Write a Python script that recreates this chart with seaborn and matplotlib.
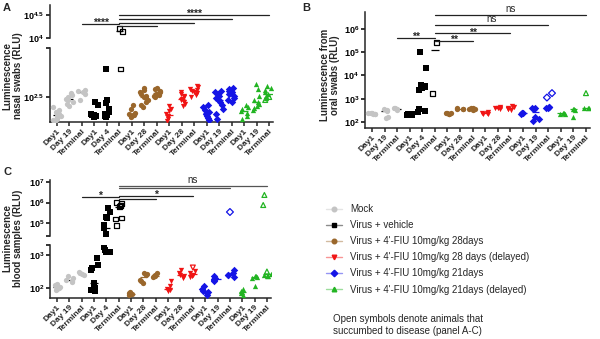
import numpy as np
import pandas as pd
import matplotlib
matplotlib.use("Agg")
import matplotlib.pyplot as plt
import seaborn as sns
from matplotlib.lines import Line2D
from matplotlib.ticker import NullLocator

sns.set_theme(style="ticks")
plt.rcParams["font.family"] = ["Liberation Sans", "DejaVu Sans"]
plt.rcParams["mathtext.fontset"] = "custom"
plt.rcParams["mathtext.rm"] = "Liberation Sans"
plt.rcParams["mathtext.bf"] = "Liberation Sans:bold"
plt.rcParams["mathtext.it"] = "Liberation Sans:italic"
np.random.seed(7)  # reproducible horizontal jitter of the dots

# ---- groups -------------------------------------------------------------
treatments = [
    "Mock",
    "Virus + vehicle",
    "Virus + 4'-FIU 10mg/kg 28days",
    "Virus + 4'-FIU 10mg/kg 28 days (delayed)",
    "Virus + 4'-FIU 10mg/kg 21days",
    "Virus + 4'-FIU 10mg/kg 21days (delayed)",
]
colors = ["#c4c4c4", "#000000", "#9a672c", "#f01414", "#1414e6", "#22b422"]
markers = ["o", "s", "o", "v", "D", "^"]
timepoints = [
    ["Day1", "Day 19", "Terminal"],
    ["Day1", "Day 4", "Terminal"],
    ["Day1", "Day 28", "Terminal"],
    ["Day1", "Day 28", "Terminal"],
    ["Day1", "Day 19", "Terminal"],
    ["Day1", "Day 19", "Terminal"],
]

# ---- nasal swabs, log10 RLU (filled = survivors, *_open = succumbed) ----
nasal_mock = [[2.40, 2.37, 2.35, 2.33, 2.31, 2.30, 2.28, 2.27, 2.26, 2.33],
              [2.54, 2.52, 2.50, 2.48, 2.47, 2.45, 2.43, 2.41],
              [2.57, 2.56, 2.55, 2.53, 2.47]]
nasal_vehicle = [[2.45, 2.42, 2.33, 2.32, 2.31, 2.31, 2.30, 2.32, 2.30],
                 [2.78, 2.47, 2.44, 2.38, 2.35, 2.33, 2.32, 2.31, 2.30, 2.31],
                 []]
nasal_vehicle_open = [[], [], [2.78, 4.20, 4.15]]
nasal_fiu28 = [[2.42, 2.38, 2.34, 2.33, 2.32, 2.31, 2.30, 2.32],
               [2.59, 2.57, 2.55, 2.53, 2.51, 2.50, 2.49, 2.47, 2.45, 2.42, 2.40],
               [2.59, 2.58, 2.56, 2.55, 2.54, 2.53, 2.52, 2.51, 2.50]]
nasal_fiu28d = [[2.41, 2.38, 2.36, 2.33, 2.31, 2.30, 2.28, 2.26],
                [2.55, 2.53, 2.51, 2.50, 2.48, 2.47, 2.45, 2.43, 2.41],
                [2.61, 2.60, 2.58, 2.57, 2.56, 2.55, 2.54, 2.52, 2.50]]
nasal_fiu21 = [[2.42, 2.40, 2.37, 2.35, 2.33, 2.31, 2.29, 2.27],
               [2.56, 2.55, 2.53, 2.51, 2.49, 2.47, 2.45, 2.42, 2.38, 2.33, 2.28],
               [2.59, 2.58, 2.56, 2.55, 2.53, 2.51, 2.49, 2.47, 2.45]]
nasal_fiu21d = [[2.42, 2.40, 2.38, 2.36, 2.34, 2.31, 2.28],
                [2.63, 2.58, 2.51, 2.47, 2.45, 2.43, 2.41, 2.39, 2.37],
                [2.61, 2.59, 2.57, 2.55, 2.53, 2.51, 2.49]]
nasal_fiu21d_open = [[], [], [2.47, 2.50]]

# ---- oral swabs, log10 RLU ----------------------------------------------
oral_mock = [[2.40, 2.38, 2.37, 2.36, 2.35, 2.34],
             [2.55, 2.50, 2.48, 2.20, 2.17],
             [2.62, 2.58, 2.55, 2.53]]
oral_vehicle = [[2.35, 2.33, 2.31, 2.30, 2.29, 2.28, 2.32, 2.30],
                [5.00, 4.32, 3.59, 3.55, 3.45, 3.38, 3.50, 2.55, 2.48, 2.43],
                []]
oral_vehicle_open = [[], [], [5.40, 3.24]]
oral_fiu28 = [[2.40, 2.38, 2.37, 2.36, 2.35],
              [2.58, 2.56, 2.55, 2.54],
              [2.62, 2.58, 2.56, 2.54, 2.52]]
oral_fiu28d = [[2.42, 2.39, 2.37, 2.36, 2.35],
               [2.64, 2.62, 2.60, 2.58, 2.57],
               [2.69, 2.64, 2.60, 2.57, 2.55, 2.52]]
oral_fiu21 = [[2.40, 2.38, 2.37, 2.35],
              [2.62, 2.58, 2.56, 2.20, 2.12, 2.05],
              [2.66, 2.63, 2.61, 2.58]]
oral_fiu21_open = [[], [], [3.24, 3.05]]
oral_fiu21d = [[2.40, 2.38, 2.36, 2.35],
               [2.57, 2.55, 2.53, 2.20],
               [2.62, 2.60, 2.58]]
oral_fiu21d_open = [[], [], [3.24]]

# ---- blood samples, log10 RLU -------------------------------------------
blood_mock = [[2.12, 2.08, 2.05, 2.02, 2.00, 1.98, 1.95],
              [2.35, 2.30, 2.25, 2.20, 2.17],
              [2.50, 2.45, 2.42, 2.40]]
blood_vehicle = [[2.91, 2.70, 2.62, 2.55, 2.15, 2.08, 2.00, 1.95, 1.90],
                 [5.73, 5.54, 5.29, 5.24, 4.90, 4.76, 4.46, 3.24, 3.15, 3.10, 3.09],
                 []]
blood_vehicle_open = [[], [], [6.00, 5.95, 5.85, 5.80, 5.25, 5.20, 4.90]]
blood_fiu28 = [[1.88, 1.85, 1.82, 1.80],
               [2.45, 2.42, 2.40, 2.25, 2.20, 2.15],
               [2.44, 2.40, 2.37, 2.35, 2.32]]
blood_fiu28d = [[2.20, 2.05, 1.98, 1.95, 1.92],
                [2.55, 2.45, 2.40, 2.35, 2.30],
                [2.52, 2.45, 2.40, 2.35, 2.32]]
blood_fiu28d_open = [[], [], [2.62]]
blood_fiu21 = [[2.05, 1.98, 1.92, 1.88, 1.85, 1.80],
               [2.35, 2.30, 2.28, 2.25, 2.22],
               [2.55, 2.45, 2.40, 2.38, 2.33]]
blood_fiu21_open = [[], [], [5.54]]
blood_fiu21d = [[1.98, 1.92, 1.88, 1.85, 1.80],
                [2.37, 2.35, 2.33, 2.30, 2.05],
                [2.42, 2.38, 2.36, 2.35]]
blood_fiu21d_open = [[], [], [6.37, 5.88, 2.50]]

EMPTY = [[], [], []]


def build_frame(filled, opened):
    rows = []
    for t, (fs, os_) in enumerate(zip(filled, opened)):
        for k in range(3):
            for v in fs[k]:
                rows.append((t, 3 * t + k, 10 ** v, False))
            for v in os_[k]:
                rows.append((t, 3 * t + k, 10 ** v, True))
    return pd.DataFrame(rows, columns=["tid", "pos", "rlu", "open"])


nasal_df = build_frame(
    [nasal_mock, nasal_vehicle, nasal_fiu28, nasal_fiu28d, nasal_fiu21, nasal_fiu21d],
    [EMPTY, nasal_vehicle_open, EMPTY, EMPTY, EMPTY, nasal_fiu21d_open])
oral_df = build_frame(
    [oral_mock, oral_vehicle, oral_fiu28, oral_fiu28d, oral_fiu21, oral_fiu21d],
    [EMPTY, oral_vehicle_open, EMPTY, EMPTY, oral_fiu21_open, oral_fiu21d_open])
blood_df = build_frame(
    [blood_mock, blood_vehicle, blood_fiu28, blood_fiu28d, blood_fiu21, blood_fiu21d],
    [EMPTY, blood_vehicle_open, EMPTY, blood_fiu28d_open, blood_fiu21_open, blood_fiu21d_open])

xtick_labels = [lab for tp in timepoints for lab in tp]

# ---- figure ---------------------------------------------------------------
W, H = 600, 339
fig = plt.figure(figsize=(W / 100, H / 100), dpi=100)


def add_axes(left, top, right, bottom):
    return fig.add_axes([left / W, 1 - bottom / H, (right - left) / W, (bottom - top) / H])


def exp_label(e):
    return r"$\mathbf{10^{%s}}$" % e


def style_axis(ax, ylim, ticks, labels, show_x):
    ax.set_yscale("log")
    ax.set_ylim(*ylim)
    ax.set_xlim(-0.55, 17.32)
    ax.set_yticks(ticks, labels)
    ax.yaxis.set_minor_locator(NullLocator())
    ax.set_xlabel("")
    ax.set_ylabel("")
    for s in ("top", "right"):
        ax.spines[s].set_visible(False)
    ax.spines["left"].set_linewidth(1.1)
    ax.spines["bottom"].set_linewidth(1.1)
    ax.tick_params(axis="y", length=2.8, width=1.1, pad=1.5, labelsize=6.5, colors="black")
    ax.set_facecolor("none")
    if show_x:
        ax.set_xticks(range(18), xtick_labels, rotation=45, ha="right",
                      rotation_mode="anchor", fontsize=6, fontweight="bold")
        ax.tick_params(axis="x", length=2.8, width=1.1, pad=1.5)
    else:
        ax.spines["bottom"].set_visible(False)
        ax.set_xticks([])


def draw_points(ax, frame):
    for t in range(len(treatments)):
        # group median lines sit beneath the dots
        grp = frame[frame.tid == t].groupby("pos")["rlu"].median()
        mcol = "black" if t < 2 else colors[t]
        ax.hlines(grp.values, grp.index - 0.3, grp.index + 0.3, color=mcol, lw=0.9, zorder=2)
        for is_open in (False, True):
            sub = frame[(frame.tid == t) & (frame.open == is_open)]
            if sub.empty:
                continue
            kw = dict(data=sub, x="pos", y="rlu", native_scale=True, marker=markers[t],
                      size=3.8, jitter=0.32, ax=ax, legend=False, zorder=3)
            if is_open:
                kw.update(color=colors[t], facecolor="none", edgecolor=colors[t], linewidth=0.9,
                          size=3.5)
            else:
                kw.update(color=colors[t], linewidth=0)
            sns.stripplot(**kw)


def bracket(ax, x0, x1, yexp, text=None, color="#222222", dy=-1.5):
    y = 10 ** yexp
    ax.plot([x0, x1], [y, y], color=color, lw=0.9, clip_on=False, zorder=4)
    if text:
        ax.annotate(text, xy=((x0 + x1) / 2, y), xytext=(0, dy), textcoords="offset points",
                    ha="center", va="baseline", fontsize=7.5 if "*" in text else 7,
                    fontweight="bold" if "*" in text else "normal", annotation_clip=False)


# Panel A: nasal swabs, broken axis
a_low = add_axes(50, 48, 273, 122)
a_up = add_axes(50, 5, 273, 38)
a_low_ticks = ([10 ** 2.5, 10 ** 2.99], [exp_label("2.5"), ""])
a_up_ticks = ([10 ** 4.0, 10 ** 4.5], [exp_label("4"), exp_label("4.5")])
for ax in (a_low, a_up):
    ax.set_yscale("log")
draw_points(a_low, nasal_df)
draw_points(a_up, nasal_df)
style_axis(a_low, (10 ** 2.25, 10 ** 2.99), *a_low_ticks, True)
style_axis(a_up, (10 ** 4.0, 10 ** 4.717), *a_up_ticks, False)
bracket(a_up, 2, 5, 4.30, "****")
bracket(a_up, 5, 17, 4.50, "****")
bracket(a_up, 5, 14, 4.41)
bracket(a_up, 5, 11, 4.33)
bracket(a_up, 5, 8, 4.26)

# Panel B: oral swabs
b_ax = add_axes(365, 12, 590, 128)
b_ax.set_yscale("log")
draw_points(b_ax, oral_df)
style_axis(b_ax, (10 ** 1.74, 10 ** 6.73), [10 ** k for k in range(2, 7)],
           [exp_label(k) for k in range(2, 7)], True)
bracket(b_ax, 2, 5, 5.62, "**")
bracket(b_ax, 5, 17, 6.61, "ns", dy=2.2)
bracket(b_ax, 5, 14, 6.18, "ns", dy=2.2)
bracket(b_ax, 5, 11, 5.81, "**")
bracket(b_ax, 5, 8, 5.49, "**")

# Panel C: blood samples, broken axis
c_low = add_axes(50, 245, 271, 298)
c_up = add_axes(50, 180, 271, 236)
c_low_ticks = ([10 ** 2, 10 ** 3, 10 ** 3.3], [exp_label(2), exp_label(3), ""])
c_up_ticks = ([10 ** 4.37, 10 ** 5, 10 ** 6, 10 ** 7], ["", exp_label(5), exp_label(6), exp_label(7)])
for ax in (c_low, c_up):
    ax.set_yscale("log")
draw_points(c_low, blood_df)
draw_points(c_up, blood_df)
style_axis(c_low, (10 ** 1.7, 10 ** 3.3), *c_low_ticks, True)
style_axis(c_up, (10 ** 4.37, 10 ** 7.1), *c_up_ticks, False)
bracket(c_up, 2, 5, 6.27, "*")
bracket(c_up, 5, 8, 6.17)
bracket(c_up, 5, 11, 6.32, "*")
bracket(c_up, 5, 17, 6.80, "ns", color="#555555", dy=2.2)
bracket(c_up, 5, 14, 6.73, color="#555555")

# axis titles and panel letters
fig.text(13 / W, 1 - 76 / H, "Luminescence\nnasal swabs (RLU)", rotation=90, ha="center",
         va="center", multialignment="center", fontsize=7, fontweight="bold", linespacing=1.1)
fig.text(330 / W, 1 - 75 / H, "Luminescence from\noral swabs (RLU)", rotation=90, ha="center",
         va="center", multialignment="center", fontsize=7, fontweight="bold", linespacing=1.1)
fig.text(13 / W, 1 - 238 / H, "Luminescence\nblood samples (RLU)", rotation=90, ha="center",
         va="center", multialignment="center", fontsize=7, fontweight="bold", linespacing=1.1)
for letter, (px, py) in zip("ABC", [(7, 8), (306, 8), (7, 172)]):
    fig.text(px / W, 1 - py / H, letter, ha="center", va="center", fontsize=8, fontweight="bold")


def lighten(c, f=0.55):
    rgb = np.array(matplotlib.colors.to_rgb(c))
    return tuple(rgb + (1 - rgb) * f)


handles = [Line2D([0], [0], color=lighten(c), lw=1, marker=m, markersize=3.3,
                  markerfacecolor=c, markeredgecolor=c)
           for c, m in zip(colors, markers)]
fig.legend(handles, treatments, loc="upper left", bbox_to_anchor=(326 / W, 1 - 204 / H),
           frameon=False, fontsize=7, handlelength=1.6, handletextpad=0.9,
           labelspacing=0.63, borderpad=0, borderaxespad=0)
fig.text(333 / W, 1 - 314 / H, "Open symbols denote animals that\nsuccumbed to disease (panel A-C)",
         ha="left", va="top", fontsize=7, linespacing=1.2)

fig.savefig("out.png", dpi=100)
